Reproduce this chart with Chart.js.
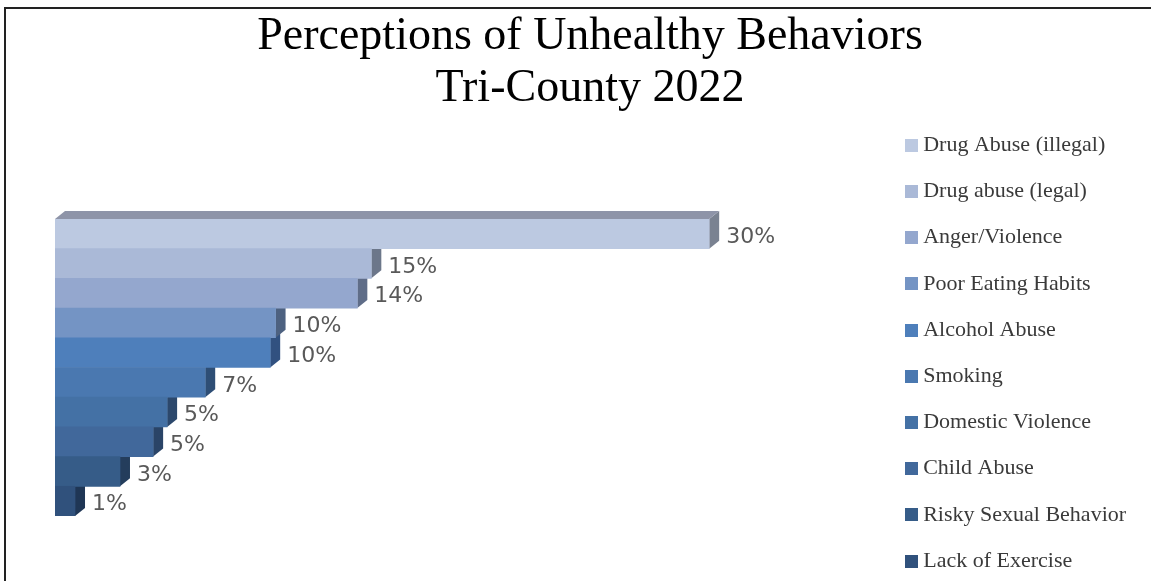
<!DOCTYPE html>
<html>
<head>
<meta charset="utf-8">
<script src="https://cdn.jsdelivr.net/npm/chart.js@4"></script>
<style>
html,body{margin:0;padding:0;background:#fff;overflow:hidden}
#frame{position:absolute;left:4px;top:7px;width:1147px;height:574px;border-top:2px solid #222;border-left:2px solid #222;box-sizing:border-box}
canvas{position:absolute;left:0;top:0}
</style>
</head>
<body>
<div id="frame"></div>
<canvas id="c" width="1151" height="581"></canvas>
<script>
const titleLines = ["Perceptions of Unhealthy Behaviors", "Tri-County 2022"];
const categories = ["Drug Abuse (illegal)","Drug abuse (legal)","Anger/Violence","Poor Eating Habits","Alcohol Abuse","Smoking","Domestic Violence","Child Abuse","Risky Sexual Behavior","Lack of Exercise"];
const values = [30.4,14.7,14.05,10.25,10.0,6.98,5.21,4.56,3.02,0.93];
const frontColors = ["#BCC9E1","#AAB9D7","#94A7CE","#7494C4","#4E7FBB","#4A78B0","#4471A5","#41689B","#365C88","#30517C"];
const sideColors = ["#7A8291","#6C778A","#5F6D88","#4D6180","#315180","#2E4E75","#2C486C","#2A4467","#243D5C","#1F3655"];
const topColor = "#8E94A8";
const DX = 10, DY = 8;

function swatch(color){
  const s = document.createElement("canvas");
  s.width = 13; s.height = 13;
  const g = s.getContext("2d");
  g.fillStyle = color; g.fillRect(0,0,13,13);
  return s;
}
const swatches = frontColors.map(swatch);

const legendPlace = {
  id:"legendPlace",
  beforeLayout(chart){
    const l = chart.legend;
    if(!l._wrapped){
      const fit = l.fit;
      l.fit = function(){ this.maxHeight = 2000; fit.call(this); };
      l._wrapped = true;
    }
  },
  afterLayout(chart){
    const l = chart.legend;
    l.left = 887; l.right = 1151;
    l.top = 110; l.bottom = 2000;
  }
};
const depth = {
  id:"depth",
  beforeDatasetsDraw(chart){
    const ctx = chart.ctx, bars = chart.getDatasetMeta(0).data;
    ctx.save();
    for(let i=bars.length-1;i>=0;i--){
      const b = bars[i], p = b.getProps(["x","y","base","height"],true);
      const t = p.y-p.height/2, bt = p.y+p.height/2;
      ctx.fillStyle = sideColors[i];
      ctx.beginPath();
      ctx.moveTo(p.x,t);ctx.lineTo(p.x+DX,t-DY);ctx.lineTo(p.x+DX,bt-DY);ctx.lineTo(p.x,bt);
      ctx.closePath();ctx.fill();
      ctx.fillStyle = topColor;
      ctx.beginPath();
      ctx.moveTo(p.base,t);ctx.lineTo(p.base+DX,t-DY);ctx.lineTo(p.x+DX,t-DY);ctx.lineTo(p.x,t);
      ctx.closePath();ctx.fill();
    }
    ctx.restore();
  },
  afterDatasetsDraw(chart){
    const ctx = chart.ctx, bars = chart.getDatasetMeta(0).data;
    ctx.save();
    ctx.font = "22px 'DejaVu Sans'";
    ctx.fillStyle = "#595959";
    ctx.textAlign = "left";
    ctx.textBaseline = "middle";
    bars.forEach((b,i)=>{
      const p = b.getProps(["x","y"],true);
      ctx.fillText(Math.round(values[i])+"%", p.x+17, p.y+3.5);
    });
    ctx.restore();
  }
};

new Chart(document.getElementById("c"),{
  type:"bar",
  data:{labels:categories,datasets:[{data:values,backgroundColor:frontColors,borderWidth:0,categoryPercentage:1,barPercentage:1}]},
  plugins:[legendPlace,depth],
  options:{
    indexAxis:"y",
    responsive:false,
    animation:false,
    events:[],
    layout:{padding:{left:55,right:26,top:0,bottom:65}},
    scales:{
      x:{display:false,min:0,max:38.15},
      y:{display:false}
    },
    plugins:{
      tooltip:{enabled:false},
      title:{
        display:true,
        text:titleLines,
        color:"#000",
        font:{family:"'Liberation Serif'",size:46,weight:"normal",lineHeight:1.13},
        padding:{top:11,bottom:104}
      },
      legend:{
        display:true,
        position:"right",
        align:"start",
        labels:{
          boxWidth:1,boxHeight:13,padding:24.2,
          usePointStyle:true,pointStyleWidth:1,
          color:"#3a3a3a",
          font:{family:"'Liberation Serif'",size:22},
          generateLabels:()=>categories.map((c,i)=>({text:c,fillStyle:frontColors[i],strokeStyle:"transparent",lineWidth:0,index:i,fontColor:"#3a3a3a",pointStyle:swatches[i]}))
        }
      }
    }
  }
});
</script>
</body>
</html>
